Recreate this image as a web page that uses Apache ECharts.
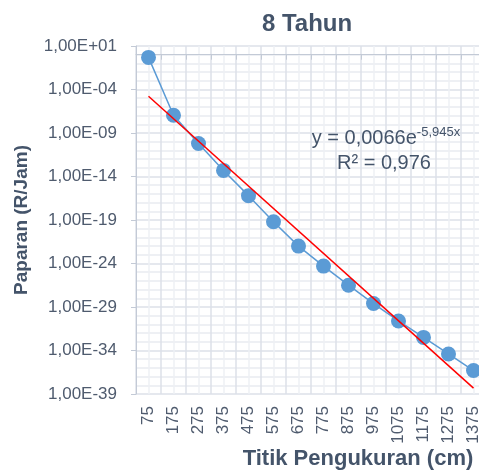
<!DOCTYPE html>
<html>
<head>
<meta charset="utf-8">
<script src="https://cdn.jsdelivr.net/npm/echarts@6/dist/echarts.min.js"></script>
<style>
html, body { margin: 0; padding: 0; background: #fff; }
#chart { width: 479px; height: 471px; }
</style>
</head>
<body>
<div id="chart"></div>
<script>
// titik pengukuran (cm)
var titik = ['75', '175', '275', '375', '475', '575', '675', '775', '875', '975', '1075', '1175', '1275', '1375'];
// paparan (R/Jam)
var paparan = [4.9e-1, 1.1e-7, 6.3e-11, 5.0e-14, 6.3e-17, 6.3e-20, 1.0e-22, 5.0e-25, 3.2e-27, 2.5e-29, 2.5e-31, 3.2e-33, 4.0e-35, 5.0e-37];
// ujung garis tren (eksponensial)
var trenAwal = 1.7e-5;
var trenAkhir = 4.7e-39;

var teks = '#44546A';
var garisSumbu = '#C3CAD6';
var huruf = 'Liberation Sans, Arial, sans-serif';

function logData(arr) {
	var out = [];
	for (var i = 0; i < arr.length; i++) {
		out.push(Math.log10(arr[i]));
	}
	return out;
}

// label sumbu Y gaya Excel: 1,00E-04
function labelY(value) {
	var e = Math.round(value);
	var s = Math.abs(e) < 10 ? '0' + Math.abs(e) : '' + Math.abs(e);
	return '1,00E' + (e < 0 ? '-' : '+') + s;
}

// garis bantu vertikal di tengah tiap kategori
var minorX = [];
for (var i = 0; i < titik.length; i++) {
	minorX.push({ xAxis: titik[i] });
}

var chart = echarts.init(document.getElementById('chart'));
var option = {
	animation: false,
	textStyle: { fontFamily: huruf },
	title: {
		text: '8 Tahun',
		left: 302,
		top: 7,
		textAlign: 'center',
		textStyle: { fontSize: 24, fontWeight: 'bold', color: teks, fontFamily: huruf }
	},
	grid: { left: 136, top: 46, width: 350, height: 348, outerBoundsMode: 'none' },
	xAxis: {
		type: 'category',
		data: titik,
		name: 'Titik Pengukuran (cm)',
		nameLocation: 'middle',
		nameGap: 54,
		nameMoveOverlap: false,
		nameTextStyle: { fontSize: 22, fontWeight: 'bold', color: teks, padding: [0, 0, 0, 94] },
		axisLine: { lineStyle: { color: garisSumbu, width: 1 } },
		axisTick: { show: true, length: 5, lineStyle: { color: garisSumbu } },
		axisLabel: { rotate: 90, fontSize: 17, color: '#4F5B6E', margin: 12, interval: 0 },
		splitLine: { show: true, lineStyle: { color: '#DDE1E9', width: 1.5 } }
	},
	yAxis: {
		type: 'value',
		min: -39,
		max: 1,
		interval: 5,
		name: 'Paparan (R/Jam)',
		nameLocation: 'middle',
		nameGap: 105,
		nameMoveOverlap: false,
		nameTextStyle: { fontSize: 19, fontWeight: 'bold', color: teks },
		axisLine: { show: true, lineStyle: { color: garisSumbu, width: 1 } },
		axisTick: { show: true, length: 5, lineStyle: { color: garisSumbu } },
		axisLabel: { fontSize: 17, color: '#4F5B6E', margin: 19, formatter: labelY },
		splitLine: { show: true, lineStyle: { color: '#DDE1E9', width: 1.5 } },
		minorTick: { show: false, splitNumber: 5 },
		minorSplitLine: { show: true, lineStyle: { color: '#EEF0F4', width: 2 } }
	},
	series: [
		{
			name: 'Paparan',
			type: 'line',
			data: logData(paparan),
			symbol: 'circle',
			symbolSize: 15,
			lineStyle: { color: '#5B9BD5', width: 1.5 },
			itemStyle: { color: '#5B9BD5' },
			markLine: {
				silent: true,
				symbol: 'none',
				label: { show: false },
				lineStyle: { color: '#EEF0F4', width: 1.5, type: 'solid' },
				data: minorX,
				z: 0
			},
			z: 3
		},
		{
			name: 'Tren',
			type: 'line',
			data: [[titik[0], Math.log10(trenAwal)], [titik[titik.length - 1], Math.log10(trenAkhir)]],
			symbol: 'none',
			lineStyle: { color: '#FF0000', width: 1.5 },
			z: 4
		}
	],
	graphic: [
		{
			type: 'text',
			x: 386,
			y: 138,
			z: 10,
			style: {
				text: '{a|y = 0,0066e}{s|-5,945x}',
				align: 'center',
				verticalAlign: 'middle',
				fill: teks,
				rich: {
					a: { fontSize: 20, fill: teks, lineHeight: 24, fontFamily: huruf },
					s: { fontSize: 13, fill: teks, lineHeight: 13, verticalAlign: 'top', fontFamily: huruf }
				}
			}
		},
		{
			type: 'text',
			x: 384,
			y: 163,
			z: 10,
			style: {
				text: 'R² = 0,976',
				align: 'center',
				verticalAlign: 'middle',
				fontSize: 20,
				fill: teks,
				fontFamily: huruf
			}
		}
	]
};
chart.setOption(option);
</script>
</body>
</html>
